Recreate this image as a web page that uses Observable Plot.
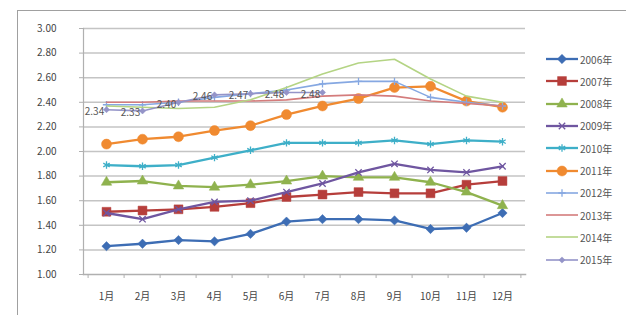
<!DOCTYPE html>
<html><head><meta charset="utf-8">
<script src="https://cdn.jsdelivr.net/npm/d3@7"></script>
<script src="https://cdn.jsdelivr.net/npm/@observablehq/plot@0.6"></script>
<style>
body{margin:0;background:#fff;}
#wrap{position:relative;width:626px;height:315px;overflow:hidden;font-family:"Noto Sans CJK SC","Noto Sans",sans-serif;}
#border{position:absolute;left:17px;top:10px;width:640px;height:340px;border:1.5px solid #a0a0a0;box-sizing:border-box;}
#chart{position:absolute;left:0;top:0;}
.lg{position:absolute;left:546px;height:14px;display:flex;align-items:center;font-size:10px;color:#555;}
.lg span{margin-left:2px;}
</style></head>
<body>
<div id="wrap"><div id="border"></div><div id="chart"></div><div id="legend"></div></div>
<script>
const months = ["1月","2月","3月","4月","5月","6月","7月","8月","9月","10月","11月","12月"];
const yTicks = [1.0,1.2,1.4,1.6,1.8,2.0,2.2,2.4,2.6,2.8,3.0];
const seriesNames = ["2006年","2007年","2008年","2009年","2010年","2011年","2012年","2013年","2014年","2015年"];
const v2006 = [1.23,1.25,1.28,1.27,1.33,1.43,1.45,1.45,1.44,1.37,1.38,1.50];
const v2007 = [1.51,1.52,1.53,1.55,1.58,1.63,1.65,1.67,1.66,1.66,1.73,1.76];
const v2008 = [1.75,1.76,1.72,1.71,1.73,1.76,1.80,1.79,1.79,1.75,1.67,1.56];
const v2009 = [1.50,1.45,1.53,1.59,1.60,1.67,1.74,1.83,1.90,1.85,1.83,1.88];
const v2010 = [1.89,1.88,1.89,1.95,2.01,2.07,2.07,2.07,2.09,2.06,2.09,2.08];
const v2011 = [2.06,2.10,2.12,2.17,2.21,2.30,2.37,2.43,2.52,2.53,2.41,2.36];
const v2012 = [2.38,2.38,2.40,2.44,2.47,2.50,2.55,2.57,2.57,2.44,2.40,2.37];
const v2013 = [2.40,2.40,2.41,2.41,2.41,2.42,2.45,2.46,2.45,2.41,2.39,2.37];
const v2014 = [2.37,2.36,2.35,2.36,2.42,2.52,2.63,2.72,2.75,2.59,2.45,2.40];
const v2015 = [2.34,2.33,2.40,2.46,2.47,2.48,2.48];
const labels2015 = ["2.34","2.33","2.40","2.46","2.47","2.48","2.48"];

const colors = ["#3d6db4","#b63e3b","#8fb24e","#6f56a0","#3eafc8","#f08a30","#86a8e2","#d47c7c","#b4d484","#9494c8"];
const lineW = [2.3,2.3,2.3,2.3,2.3,2.3,1.6,1.6,1.6,1.6];
const symbols = ["diamond2","square","triangle2","times","asterisk","circle","plus",null,null,"diamond2"];
const symR = [4.2,5,5,3,3.5,5,2.5,0,0,2.8];
const allValues = [v2006,v2007,v2008,v2009,v2010,v2011,v2012,v2013,v2014,v2015];

const rows = allValues.map((vals,i)=>vals.map((v,j)=>({series:seriesNames[i],month:months[j],value:v,idx:i,label:i===9?labels2015[j]:null})));

const marks = [
  Plot.ruleY(yTicks.slice(1), {y:d=>d, stroke:"#c4c4c4", strokeWidth:1.5}),
  Plot.frame({anchor:"left", stroke:"#b0b0b0", strokeWidth:1.2}),
  Plot.frame({anchor:"bottom", stroke:"#b0b0b0", strokeWidth:1.5}),
  Plot.axisY({ticks:yTicks, tickFormat:d=>d.toFixed(2), tickSize:4, tickPadding:23, fontSize:10, color:"#444", stroke:"#b0b0b0", label:null}),
  Plot.axisX({tickSize:0, tickPadding:18, fontSize:10, color:"#444", label:null}),
  Plot.axisX({tickSize:4, text:null, dx:-18.4, stroke:"#b0b0b0", label:null}),
  Plot.axisX(["12月"], {tickSize:4, text:null, dx:18.4, stroke:"#b0b0b0", label:null})
];
rows.forEach((data,i)=>{
  marks.push(Plot.lineY(data, {x:"month", y:"value", stroke:colors[i], strokeWidth:lineW[i]}));
  if (symbols[i]) {
    const filled = ["diamond2","square","triangle2","circle"].includes(symbols[i]);
    marks.push(Plot.dot(data, {x:"month", y:"value", symbol:()=>symbols[i], r:symR[i],
      fill: filled ? colors[i] : "none", stroke: colors[i], strokeWidth: filled?0.5:1.3}));
  }
});
marks.push(Plot.text(rows[9], {x:"month", y:"value", text:"label", dx:-12, dy:2, fontSize:10, fill:"#555"}));

const chart = Plot.plot({
  width:626, height:315,
  marginLeft:83, marginRight:101, marginTop:28, marginBottom:41,
  style:{background:"transparent", fontFamily:'"Noto Sans CJK SC","Noto Sans",sans-serif'},
  x:{type:"point", domain:months, padding:0.5},
  y:{domain:[1,3]},
  marks
});
document.getElementById("chart").appendChild(chart);

const legend = document.getElementById("legend");
seriesNames.forEach((name,i)=>{
  const item = document.createElement("div");
  item.className = "lg";
  item.style.top = (52 + i*22.3) + "px";
  const svg = d3.create("svg").attr("width",32).attr("height",14);
  svg.append("line").attr("x1",0).attr("x2",32).attr("y1",7).attr("y2",7).attr("stroke",colors[i]).attr("stroke-width",lineW[i]);
  if (symbols[i]) {
    const map = {diamond2:d3.symbolDiamond2, square:d3.symbolSquare, triangle2:d3.symbolTriangle2, times:d3.symbolTimes, asterisk:d3.symbolAsterisk, circle:d3.symbolCircle, plus:d3.symbolPlus};
    const filled = ["diamond2","square","triangle2","circle"].includes(symbols[i]);
    const r = symR[i];
    svg.append("path").attr("transform","translate(16,7)")
      .attr("d", d3.symbol(map[symbols[i]], Math.PI*r*r)())
      .attr("fill", filled?colors[i]:"none").attr("stroke",colors[i]).attr("stroke-width",filled?0.5:1.3);
  }
  item.appendChild(svg.node());
  const s = document.createElement("span"); s.textContent = name; item.appendChild(s);
  legend.appendChild(item);
});
</script>
</body></html>
